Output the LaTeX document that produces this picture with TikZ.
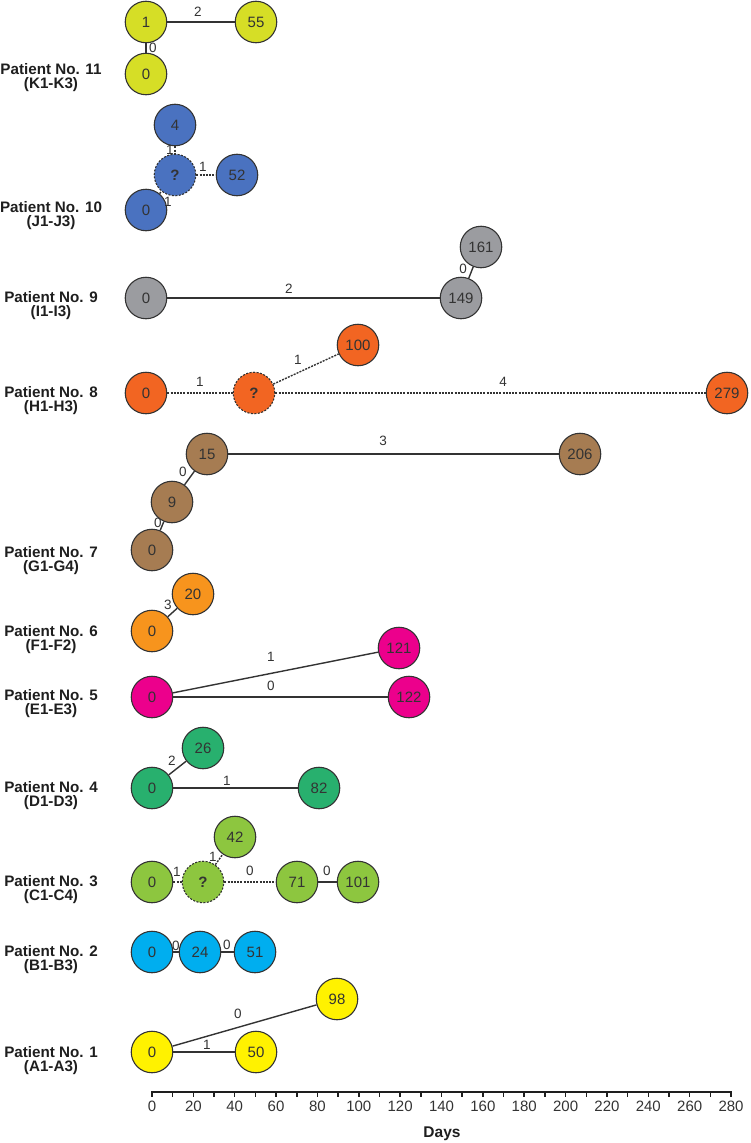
\documentclass[tikz,border=0pt]{standalone}
\usepackage{fontspec}
\setmainfont{Liberation Sans}
\definecolor{cK}{RGB}{214,222,38}
\definecolor{cJ}{RGB}{74,114,192}
\definecolor{cI}{RGB}{155,156,160}
\definecolor{cH}{RGB}{242,101,34}
\definecolor{cG}{RGB}{166,124,82}
\definecolor{cF}{RGB}{247,148,29}
\definecolor{cE}{RGB}{236,0,140}
\definecolor{cD}{RGB}{40,176,110}
\definecolor{cC}{RGB}{141,198,63}
\definecolor{cB}{RGB}{0,174,239}
\definecolor{cA}{RGB}{255,242,0}
\definecolor{ink}{RGB}{51,51,51}
\definecolor{dark}{RGB}{30,30,30}
\newcommand\patlab[4]{%
  \node[plab] (#1) at (51,{#2+7.5}) {#3\\#4};}
\begin{document}
\begin{tikzpicture}[x=1pt,y=-1pt,
  pt/.style={circle, draw=ink, line width=1.1pt, minimum size=41.5pt, inner sep=0pt,
    font=\fontsize{15}{15}\selectfont, text=ink},
  unk/.style={pt, dash pattern=on 2pt off 1.5pt, font=\bfseries\fontsize{15}{15}\selectfont},
  sl/.style={draw=ink, line width=1.4pt},
  dl/.style={draw=ink, line width=1.4pt, dash pattern=on 2pt off 1.2pt},
  elab/.style={font=\fontsize{13.5}{13.5}\selectfont, text=ink, inner sep=0pt},
  plab/.style={font=\bfseries\fontsize{15.2}{14}\selectfont, inner sep=0pt, text=dark, align=center},
  tlab/.style={font=\fontsize{15}{15}\selectfont, inner sep=0pt, text=ink},
  dlab/.style={font=\bfseries\fontsize{15.5}{15.5}\selectfont, inner sep=0pt, text=dark},
  axisline/.style={draw=dark, line width=2pt},
  tickline/.style={draw=dark, line width=1.5pt}
]
\useasboundingbox (0,0) rectangle (750,1143);

% Patient 11
\node[pt, fill=cK] (K1) at (146,22) {1};
\node[pt, fill=cK] (K55) at (256,22) {55};
\node[pt, fill=cK] (K0) at (146,74) {0};
\draw[sl] (K1) -- (K55);
\draw[sl] (K1) -- (K0);
\node[elab] (lK1) at (198,12) {2};
\node[elab] (lK2) at (153,48) {0};
\patlab{p11}{70}{Patient No. 11}{(K1-K3)}

% Patient 10
\node[pt, fill=cJ] (J4) at (175,125) {4};
\node[unk, fill=cJ] (Jq) at (175,175) {?};
\node[pt, fill=cJ] (J52) at (237,175) {52};
\node[pt, fill=cJ] (J0) at (146,210) {0};
\draw[dl] (J4) -- (Jq);
\draw[dl] (Jq) -- (J52);
\draw[dl] (J0) -- (Jq);
\node[elab] (lJ1) at (170,150) {1};
\node[elab] (lJ2) at (203,167) {1};
\node[elab] (lJ3) at (168,202) {1};
\patlab{p10}{208}{Patient No. 10}{(J1-J3)}

% Patient 9
\node[pt, fill=cI] (I0) at (146,298) {0};
\node[pt, fill=cI] (I149) at (461,298) {149};
\node[pt, fill=cI] (I161) at (481,247) {161};
\draw[sl] (I0) -- (I149);
\draw[sl] (I149) -- (I161);
\node[elab] (lI1) at (289,289) {2};
\node[elab] (lI2) at (463,269) {0};
\patlab{p9}{298}{Patient No. 9}{(I1-I3)}

% Patient 8
\node[pt, fill=cH] (H0) at (146,393) {0};
\node[unk, fill=cH] (Hq) at (254,393) {?};
\node[pt, fill=cH] (H100) at (358,345) {100};
\node[pt, fill=cH] (H279) at (727,393) {279};
\draw[dl] (H0) -- (Hq);
\draw[dl] (Hq) -- (H100);
\draw[dl] (Hq) -- (H279);
\node[elab] (lH1) at (200,382) {1};
\node[elab] (lH2) at (298,360) {1};
\node[elab] (lH3) at (503,382) {4};
\patlab{p8}{393}{Patient No. 8}{(H1-H3)}

% Patient 7
\node[pt, fill=cG] (G0) at (152,550) {0};
\node[pt, fill=cG] (G9) at (172,502) {9};
\node[pt, fill=cG] (G15) at (207,454) {15};
\node[pt, fill=cG] (G206) at (580,454) {206};
\draw[sl] (G0) -- (G9);
\draw[sl] (G9) -- (G15);
\draw[sl] (G15) -- (G206);
\node[elab] (lG1) at (158,523) {0};
\node[elab] (lG2) at (183,472) {0};
\node[elab] (lG3) at (383,441) {3};
\patlab{p7}{553}{Patient No. 7}{(G1-G4)}

% Patient 6
\node[pt, fill=cF] (F0) at (152,631) {0};
\node[pt, fill=cF] (F20) at (193,594) {20};
\draw[sl] (F0) -- (F20);
\node[elab] (lF1) at (168,605) {3};
\patlab{p6}{632}{Patient No. 6}{(F1-F2)}

% Patient 5
\node[pt, fill=cE] (E0) at (152,697) {0};
\node[pt, fill=cE] (E121) at (399,648) {121};
\node[pt, fill=cE] (E122) at (409,697) {122};
\draw[sl] (E0) -- (E121);
\draw[sl] (E0) -- (E122);
\node[elab] (lE1) at (271,657) {1};
\node[elab] (lE2) at (271,686) {0};
\patlab{p5}{696}{Patient No. 5}{(E1-E3)}

% Patient 4
\node[pt, fill=cD] (D0) at (152,788) {0};
\node[pt, fill=cD] (D26) at (203,748) {26};
\node[pt, fill=cD] (D82) at (319,788) {82};
\draw[sl] (D0) -- (D26);
\draw[sl] (D0) -- (D82);
\node[elab] (lD1) at (172,761) {2};
\node[elab] (lD2) at (227,781) {1};
\patlab{p4}{788}{Patient No. 4}{(D1-D3)}

% Patient 3
\node[pt, fill=cC] (C0) at (152,882) {0};
\node[unk, fill=cC] (Cq) at (203,882) {?};
\node[pt, fill=cC] (C42) at (235,837) {42};
\node[pt, fill=cC] (C71) at (297,882) {71};
\node[pt, fill=cC] (C101) at (358,882) {101};
\draw[dl] (C0) -- (Cq);
\draw[dl] (Cq) -- (C42);
\draw[dl] (Cq) -- (C71);
\draw[sl] (C71) -- (C101);
\node[elab] (lC1) at (177,872) {1};
\node[elab] (lC2) at (213,857) {1};
\node[elab] (lC3) at (250,871) {0};
\node[elab] (lC4) at (327,871) {0};
\patlab{p3}{882}{Patient No. 3}{(C1-C4)}

% Patient 2
\node[pt, fill=cB] (B0) at (152,952) {0};
\node[pt, fill=cB] (B24) at (200,952) {24};
\node[pt, fill=cB] (B51) at (255,952) {51};
\draw[sl] (B0) -- (B24);
\draw[sl] (B24) -- (B51);
\node[elab] (lB1) at (176,946) {0};
\node[elab] (lB2) at (227,945) {0};
\patlab{p2}{952}{Patient No. 2}{(B1-B3)}

% Patient 1
\node[pt, fill=cA] (A0) at (152,1052) {0};
\node[pt, fill=cA] (A50) at (256,1052) {50};
\node[pt, fill=cA] (A98) at (337,999) {98};
\draw[sl] (A0) -- (A98);
\draw[sl] (A0) -- (A50);
\node[elab] (lA1) at (238,1014) {0};
\node[elab] (lA2) at (207,1045) {1};
\patlab{p1}{1053}{Patient No. 1}{(A1-A3)}

% Axis
\draw[axisline] (151,1092) -- (732,1092);
\foreach \d in {0,10,...,280} \draw[tickline] ({152+\d*2.068},1091) -- ++(0,5.5);
\foreach \d in {0,20,...,280} \node[tlab] (t\d) at ({152+\d*2.068},1106) {\d};
\node[dlab] (days) at (442,1134) {Days};
\end{tikzpicture}
\end{document}
